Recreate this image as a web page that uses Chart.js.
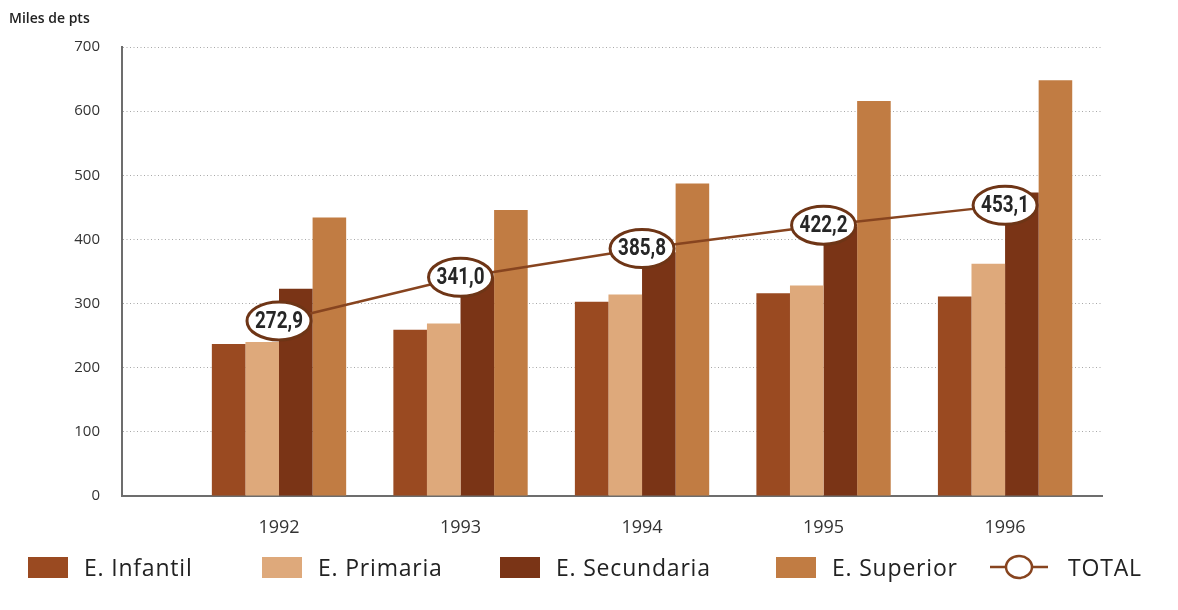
<!DOCTYPE html>
<html><head><meta charset="utf-8">
<script src="https://cdn.jsdelivr.net/npm/chart.js@4/dist/chart.umd.min.js"></script>
<style>
html,body{margin:0;padding:0;background:#fff;}
#wrap{position:relative;width:1178px;height:610px;overflow:hidden;}
canvas{position:absolute;left:0;top:0;}
#ytitle{position:absolute;left:9px;top:8px;font:600 14px 'Open Sans',sans-serif;color:#222;}
#legend{position:absolute;left:0;top:551px;width:1178px;height:36px;font-family:'Open Sans',sans-serif;}
.item{position:absolute;top:0;display:flex;align-items:center;height:32px;font-size:23px;letter-spacing:0.8px;color:#222;white-space:nowrap;}
.sw{width:40px;height:21px;margin-right:16px;}
</style></head><body>
<div id="wrap"><canvas id="c" width="1178" height="610"></canvas><div id="ytitle">Miles de pts</div><div id="legend"></div></div>
<script>
// ---- data ----
const categories = [1992, 1993, 1994, 1995, 1996];
const infantil   = [237, 259, 303, 316, 311];
const primaria   = [240, 269, 314, 328, 362];
const secundaria = [323, 340, 380, 420, 473];
const superior   = [434, 446, 487, 616, 648];
const total      = [272.9, 341.0, 385.8, 422.2, 453.1];
const seriesNames = ['E. Infantil', 'E. Primaria', 'E. Secundaria', 'E. Superior', 'TOTAL'];
const yTicks = [0, 100, 200, 300, 400, 500, 600, 700];

// ---- styles ----
const colors = ['#9a4a21', '#dea97b', '#7a3416', '#c17c43'];
const lineColor = '#87441f';
const fmt = v => v.toFixed(1).replace('.', ',');

const barSeries = [infantil, primaria, secundaria, superior];
const datasets = barSeries.map((vals, i) => ({
  type: 'bar',
  label: seriesNames[i],
  data: categories.map((c, j) => ({x: c, y: vals[j]})),
  backgroundColor: colors[i],
  borderWidth: 0,
  categoryPercentage: 0.74,
  barPercentage: 1.0,
  order: 2
}));
datasets.push({
  type: 'line',
  label: seriesNames[4],
  data: categories.map((c, j) => ({x: c, y: total[j]})),
  borderColor: lineColor,
  borderWidth: 2.5,
  pointRadius: 0,
  tension: 0,
  fill: false,
  order: 0
});

const totalLabelPlugin = {
  id: 'totalLabels',
  afterDatasetsDraw(chart) {
    const idx = chart.data.datasets.findIndex(d => d.type === 'line');
    const meta = chart.getDatasetMeta(idx);
    const ctx = chart.ctx;
    meta.data.forEach((pt, i) => {
      ctx.save();
      ctx.beginPath();
      ctx.ellipse(pt.x, pt.y, 32, 19, 0, 0, Math.PI * 2);
      ctx.fillStyle = '#fff';
      ctx.fill();
      ctx.lineWidth = 3;
      ctx.strokeStyle = '#6e3516';
      ctx.stroke();
      ctx.translate(pt.x, pt.y + 1);
      ctx.scale(0.82, 1);
      ctx.fillStyle = '#262626';
      ctx.font = "bold 23px Roboto, sans-serif";
      ctx.textAlign = 'center';
      ctx.textBaseline = 'middle';
      ctx.fillText(fmt(total[i]), 0, 0);
      ctx.restore();
    });
  }
};

new Chart(document.getElementById('c'), {
  type: 'bar',
  data: { datasets },
  plugins: [totalLabelPlugin],
  options: {
    responsive: false,
    animation: false,
    devicePixelRatio: 1,
    layout: { padding: { left: 0, right: 76, top: 47, bottom: 74 } },
    plugins: { legend: { display: false }, tooltip: { enabled: false } },
    scales: {
      x: {
        type: 'linear',
        min: 1991.135,
        max: 1996.534,
        offset: false,
        afterBuildTicks: s => { s.ticks = categories.map(v => ({ value: v })); },
        afterFit: s => { s.height = 40; },
        grid: { display: false, drawTicks: false },
        border: { display: true, color: '#6d6d6d', width: 2 },
        ticks: { callback: v => String(v), color: '#333', padding: 21, font: { family: 'Open Sans', size: 18 }, maxRotation: 0, autoSkip: false }
      },
      y: {
        min: 0,
        max: 700,
        afterBuildTicks: s => { s.ticks = yTicks.map(v => ({ value: v })); },
        afterFit: s => { s.width = 122; },
        grid: {
          drawTicks: false,
          color: ctx => ctx.tick && ctx.tick.value === 0 ? 'rgba(0,0,0,0)' : '#a8a8a8',
          lineWidth: 1
        },
        border: { display: true, color: '#6d6d6d', width: 2, dash: [1, 2.5] },
        ticks: { color: '#333', padding: 22, font: { family: 'Open Sans', size: 15 } }
      }
    }
  }
});

// ---- legend ----
const legendLeft = [28, 262, 500, 776, 990];
const legend = document.getElementById('legend');
seriesNames.forEach((name, i) => {
  const it = document.createElement('div');
  it.className = 'item';
  it.style.left = legendLeft[i] + 'px';
  if (i < 4) {
    const sw = document.createElement('div');
    sw.className = 'sw';
    sw.style.background = colors[i];
    it.appendChild(sw);
  } else {
    const ns = 'http://www.w3.org/2000/svg';
    const svg = document.createElementNS(ns, 'svg');
    svg.setAttribute('width', '58'); svg.setAttribute('height', '26');
    svg.style.marginRight = '20px';
    svg.innerHTML = '<line x1="0" y1="13" x2="58" y2="13" stroke="' + lineColor + '" stroke-width="2.5"/>' +
      '<ellipse cx="29" cy="13" rx="13" ry="11" fill="#fff" stroke="' + lineColor + '" stroke-width="2.5"/>';
    it.appendChild(svg);
  }
  const t = document.createElement('span');
  t.textContent = name;
  it.appendChild(t);
  legend.appendChild(it);
});
</script>
</body></html>
